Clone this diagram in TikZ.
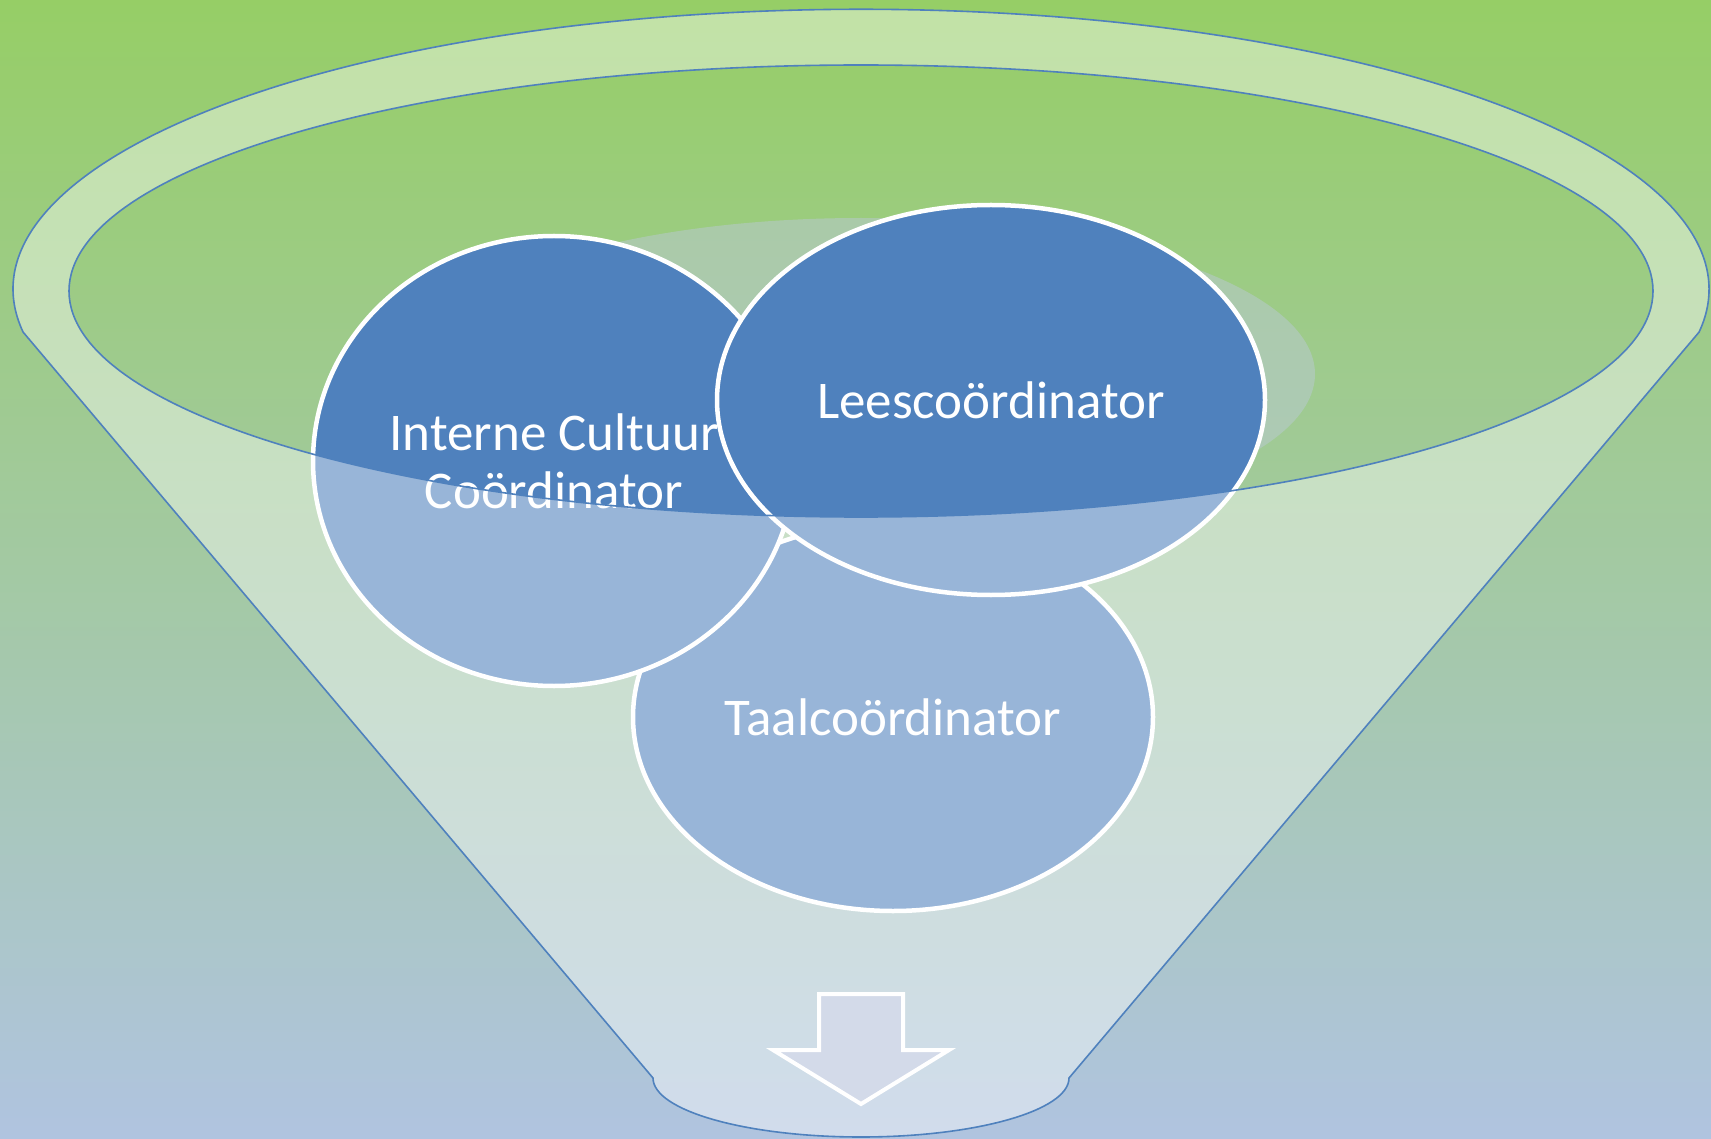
\documentclass[tikz,border=0pt]{standalone}
\usepackage{fontspec}
\setmainfont{Carlito}
\usetikzlibrary{shapes.geometric}
\definecolor{bgtop}{RGB}{150,206,102}
\definecolor{bgbot}{RGB}{176,196,224}
\definecolor{accent}{RGB}{79,129,189}
\definecolor{faint}{RGB}{186,202,212}
\definecolor{arrowfill}{RGB}{211,218,233}
\tikzset{
  coordcircle/.style={ellipse, draw=white, line width=4.5pt, fill=accent, inner sep=0pt,
    text=white, align=center, font=\fontsize{53}{58}\selectfont},
  funnelbody/.style={fill=white, fill opacity=0.42},
  funnelline/.style={draw=accent, line width=1.6pt},
  arrowshape/.style={draw=white, line width=4pt, fill=arrowfill, line join=miter}
}
\begin{document}
\begin{tikzpicture}[x=1pt,y=-1pt]
\useasboundingbox (0,0) rectangle (1711,1139);
\shade[top color=bgtop, bottom color=bgbot] (0,0) rectangle (1711,1139);
% inner surface of the funnel
\node[ellipse, fill=faint, fill opacity=0.5, minimum width=908pt, minimum height=312pt, inner sep=0pt] (surface) at (861,374) {};
% circles
\node[coordcircle, minimum width=520pt, minimum height=388pt] (taal) at (893,717) {Taalcoördinator};
\node[coordcircle, minimum width=482pt, minimum height=450pt] (icc) at (554,461) {Interne Cultuur\\Coördinator};
\node[coordcircle, minimum width=548pt, minimum height=390pt] (lees) at (991,400) {Leescoördinator};
% funnel body
\coordinate (lt) at (23.1,332.1);
\coordinate (lb) at (653,1078);
\coordinate (rb) at (1069,1078);
\coordinate (hole) at (861,291);
\fill[funnelbody, even odd rule] (lt) arc[start angle=171.2, end angle=368.8, x radius=848, y radius=280] -- (rb) arc[start angle=0, end angle=180, x radius=208, y radius=59] -- cycle (hole) ellipse [x radius=792, y radius=226];
\draw[funnelline] (lt) arc[start angle=171.2, end angle=368.8, x radius=848, y radius=280] -- (rb) arc[start angle=0, end angle=180, x radius=208, y radius=59] -- cycle;
\draw[funnelline] (hole) ellipse [x radius=792, y radius=226];
% arrow
\coordinate (a1) at (819,994);
\coordinate (a2) at (903,994);
\coordinate (a3) at (903,1050);
\coordinate (a4) at (949,1050);
\coordinate (tip) at (861,1104);
\coordinate (a6) at (773,1050);
\coordinate (a7) at (819,1050);
\draw[arrowshape] (a1) -- (a2) -- (a3) -- (a4) -- (tip) -- (a6) -- (a7) -- cycle;
\end{tikzpicture}
\end{document}
